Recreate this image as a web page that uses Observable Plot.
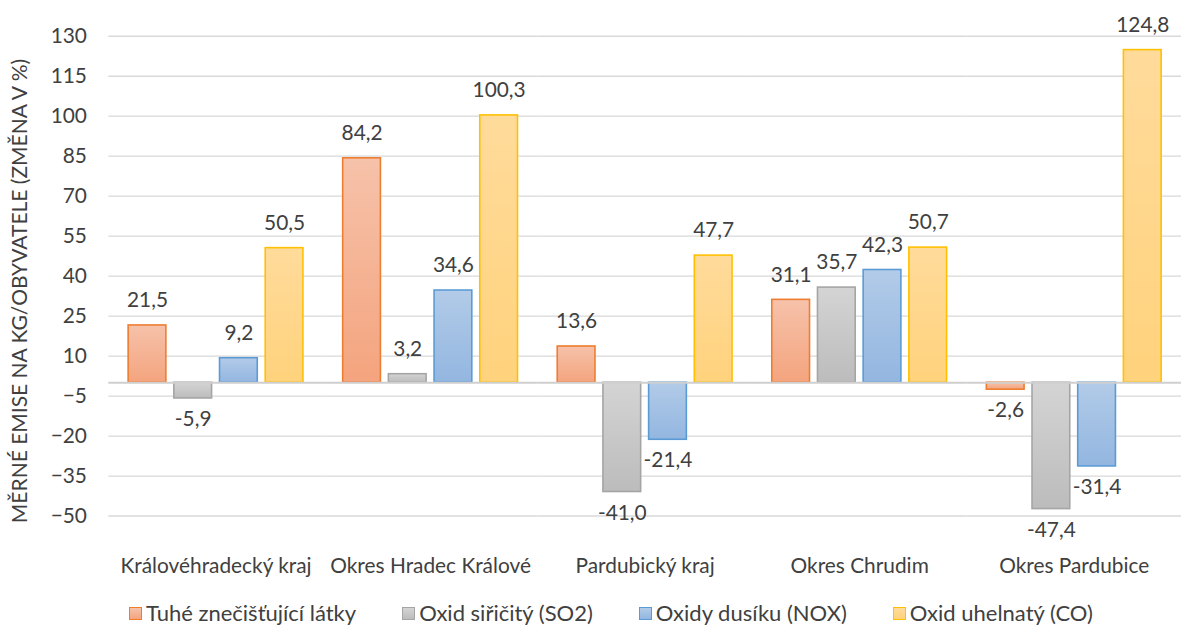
<!DOCTYPE html>
<html>
<head>
<meta charset="utf-8">
<script src="https://cdn.jsdelivr.net/npm/d3@7"></script>
<script src="https://cdn.jsdelivr.net/npm/@observablehq/plot@0.6"></script>
<style>
  html, body { margin: 0; padding: 0; background: #fff; overflow: hidden; }
  body { font-family: Lato, "Open Sans", sans-serif; color: #404040; width: 1182px; position: relative; }
  #legend { display: flex; gap: 46px; margin-left: 129px; margin-top: 19px; font-size: 22px; line-height: 26px; color: #404040; }
  #legend .item { display: flex; align-items: center; white-space: nowrap; }
  #legend .sw { width: 11px; height: 11px; border: 1.6px solid; margin-right: 4px; }
  #ylabel { position: absolute; left: 18px; top: 291px; transform: translate(-50%, -50%) rotate(-90deg); white-space: nowrap; font-size: 21px; color: #404040; }
</style>
</head>
<body>
<div id="chart"></div>
<div id="legend"></div>
<div id="ylabel"></div>
<script>
const categories = ["Královéhradecký kraj", "Okres Hradec Králové", "Pardubický kraj", "Okres Chrudim", "Okres Pardubice"];
const series = ["Tuhé znečišťující látky", "Oxid siřičitý (SO2)", "Oxidy dusíku (NOX)", "Oxid uhelnatý (CO)"];
const tuhe = [21.5, 84.2, 13.6, 31.1, -2.6];
const so2 = [-5.9, 3.2, -41.0, 35.7, -47.4];
const nox = [9.2, 34.6, -21.4, 42.3, -31.4];
const co = [50.5, 100.3, 47.7, 50.7, 124.8];
const yTicks = [-50, -35, -20, -5, 10, 25, 40, 55, 70, 85, 100, 115, 130];
const yLabel = "MĚRNÉ EMISE NA KG/OBYVATELE (ZMĚNA V %)";

const strokes = ["#ED7D31", "#A5A5A5", "#5B9BD5", "#FFC000"];
const gradTop = ["#F6C2AA", "#D4D4D4", "#B2CBE8", "#FFDB9B"];
const gradBot = ["#F4A47E", "#BCBCBC", "#93B6E0", "#FFD27C"];
const gradIds = ["g0", "g1", "g2", "g3"];

const valuesBySeries = [tuhe, so2, nox, co];
const rows = [];
categories.forEach((c, i) => {
  series.forEach((s, j) => rows.push({region: c, series: s, value: valuesBySeries[j][i]}));
});
const fmt = v => v.toFixed(1).replace(".", ",");

const barMarks = series.map((s, j) => Plot.barY(rows, {
  filter: d => d.series === s,
  x: "series", y: "value",
  fill: `url(#${gradIds[j]})`,
  stroke: strokes[j], strokeWidth: 1.6
}));

const chart = Plot.plot({
  width: 1190,
  height: 585,
  marginLeft: 109,
  marginRight: 1,
  marginTop: 36,
  marginBottom: 66,
  style: {fontFamily: "Lato, 'Open Sans', sans-serif", fontSize: "21px", color: "#404040", background: "#fff"},
  facet: {data: rows, x: "region"},
  fx: {domain: categories, padding: 0, axis: "bottom", label: null, tickSize: 0, tickPadding: 42, fontSize: 22},
  x: {domain: series, paddingInner: 0.167, paddingOuter: 0.39, axis: null},
  y: {domain: [-50, 130], ticks: yTicks, tickSize: 0, tickPadding: 22, label: null, grid: false},
  marks: [
    Plot.gridY(yTicks, {stroke: "#d9d9d9", strokeOpacity: 1, strokeWidth: 1.3}),
    ...barMarks,
    Plot.ruleY([0], {stroke: "#cfcfcf", strokeWidth: 1.8}),
    Plot.text(rows, {filter: d => d.value >= 0, x: "series", y: "value", text: d => fmt(d.value), dy: -25, fill: "#404040", fontSize: 21}),
    Plot.text(rows, {filter: d => d.value < 0, x: "series", y: "value", text: d => fmt(d.value), dy: 21, fill: "#404040", fontSize: 21})
  ]
});

// gradient definitions
const ns = "http://www.w3.org/2000/svg";
const defs = document.createElementNS(ns, "defs");
gradIds.forEach((id, j) => {
  const lg = document.createElementNS(ns, "linearGradient");
  lg.setAttribute("id", id);
  lg.setAttribute("x1", "0"); lg.setAttribute("y1", "0");
  lg.setAttribute("x2", "0"); lg.setAttribute("y2", "1");
  [[0, gradTop[j]], [1, gradBot[j]]].forEach(([o, c]) => {
    const st = document.createElementNS(ns, "stop");
    st.setAttribute("offset", o);
    st.setAttribute("stop-color", c);
    lg.appendChild(st);
  });
  defs.appendChild(lg);
});
chart.insertBefore(defs, chart.firstChild);
document.getElementById("chart").appendChild(chart);
document.getElementById("ylabel").textContent = yLabel;

// legend
const legend = document.getElementById("legend");
series.forEach((s, j) => {
  const it = document.createElement("div");
  it.className = "item";
  const sw = document.createElement("span");
  sw.className = "sw";
  sw.style.borderColor = strokes[j];
  sw.style.background = `linear-gradient(${gradTop[j]}, ${gradBot[j]})`;
  const t = document.createElement("span");
  t.textContent = s;
  it.appendChild(sw); it.appendChild(t);
  legend.appendChild(it);
});
</script>
</body>
</html>
